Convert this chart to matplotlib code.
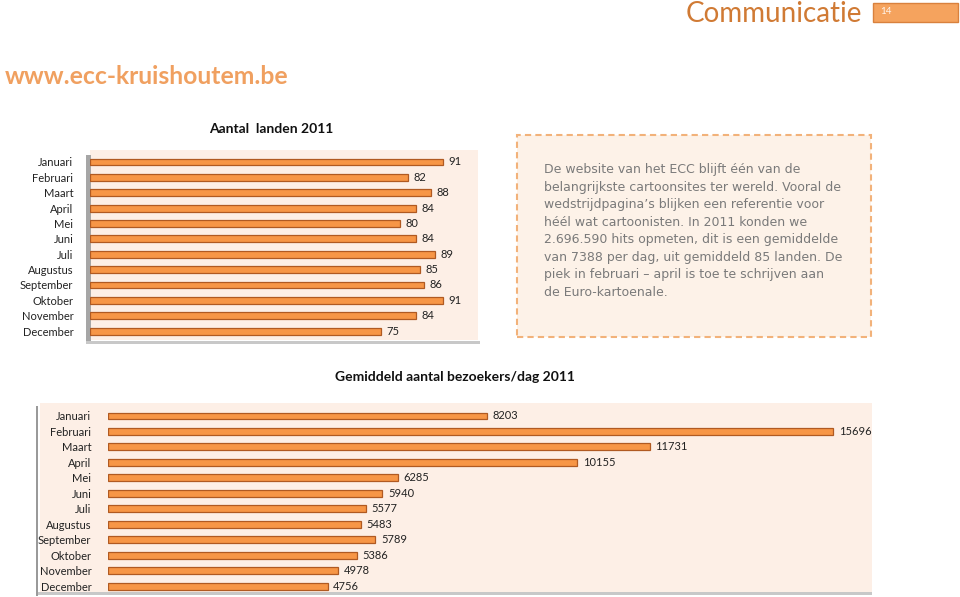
import matplotlib.pyplot as plt
from matplotlib.patches import Rectangle

# data
months = ["Januari", "Februari", "Maart", "April", "Mei", "Juni", "Juli",
          "Augustus", "September", "Oktober", "November", "December"]
landen = [91, 82, 88, 84, 80, 84, 89, 85, 86, 91, 84, 75]
bezoekers = [8203, 15696, 11731, 10155, 6285, 5940, 5577, 5483, 5789, 5386, 4978, 4756]

info_lines = [
    "De website van het ECC blijft één van de",
    "belangrijkste cartoonsites ter wereld. Vooral de",
    "wedstrijdpagina\u2019s blijken een referentie voor",
    "héél wat cartoonisten. In 2011 konden we",
    "2.696.590 hits opmeten, dit is een gemiddelde",
    "van 7388 per dag, uit gemiddeld 85 landen. De",
    "piek in februari \u2013 april is toe te schrijven aan",
    "de Euro-kartoenale.",
]

W, H = 960, 597
BAR = "#f79646"
EDGE = "#b05a22"
BG = "#fdefe6"
LABEL_FONT = ["Lato", "DejaVu Sans"]


def fx(px):
    return px / W


def fy(py):
    return 1 - py / H


def fig_rect(fig, x0, y0, x1, y1, **kw):
    # rectangle given in pixel coords (top-left origin), drawn behind the axes
    fig.patches.append(Rectangle((fx(x0), fy(y1)), fx(x1 - x0), (y1 - y0) / H,
                                 transform=fig.transFigure, zorder=-5, **kw))


def bar_chart(fig, rect, values, xmax, ylim, pad):
    ax = fig.add_axes(rect)
    ax.patch.set_alpha(0)
    y = list(range(len(values)))
    ax.barh(y, values, height=0.45, color=BAR, edgecolor=EDGE, linewidth=0.9)
    for yi, v in zip(y, values):
        ax.annotate(str(v), (v, yi), xytext=(4, 0), textcoords="offset points",
                    va="center", ha="left", fontsize=8, family=LABEL_FONT,
                    color="#222222")
    ax.set_xlim(0, xmax)
    ax.set_ylim(*ylim)
    ax.set_yticks(y)
    ax.set_yticklabels(months, fontsize=8, family=LABEL_FONT, color="#222222")
    ax.tick_params(axis="y", length=0, pad=pad)
    ax.set_xticks([])
    for s in ax.spines.values():
        s.set_visible(False)
    return ax


fig = plt.figure(figsize=(9.6, 5.97), dpi=100)

# header
fig.text(fx(862), fy(14), "Communicatie", ha="right", va="center",
         fontsize=20, family=LABEL_FONT, color="#d07a34")
fig_rect(fig, 873, 3, 958, 22, facecolor="#f5a35e", edgecolor="#d9813d",
         linewidth=1)
fig.text(fx(880), fy(12), "14", ha="left", va="center", fontsize=7,
         family=LABEL_FONT, color="#fff6ee")
fig.text(fx(5), fy(76), "www.ecc-kruishoutem.be", ha="left", va="center",
         fontsize=17.8, fontweight="bold", family=LABEL_FONT, color="#f0a060")

# top chart: aantal landen
fig.text(fx(271), fy(129), "Aantal  landen 2011", ha="center", va="center",
         fontsize=10, fontweight="bold", family=LABEL_FONT, color="#111111")
fig_rect(fig, 90, 150, 478, 340, facecolor=BG, edgecolor="none")
fig_rect(fig, 86, 155, 91, 343, facecolor="#a6a6a6", edgecolor="none")
fig_rect(fig, 86, 341, 480, 344, facecolor="#c8c8c8", edgecolor="none")
bar_chart(fig, [fx(90), fy(340), fx(388), 190 / H], landen, 100,
          (11 + 0.58, -0.78), pad=12)

# info box
fig_rect(fig, 517, 135, 871, 337, facecolor="#fdf2e8", edgecolor="#f2b27a",
         linewidth=1.5, linestyle=(0, (3, 2)))
for i, line in enumerate(info_lines):
    fig.text(fx(544), fy(170 + i * 17.45), line, ha="left", va="center",
             fontsize=9, color="#7a7a7a", family="DejaVu Sans")

# bottom chart: bezoekers per dag
fig.text(fx(455), fy(377), "Gemiddeld aantal bezoekers/dag 2011", ha="center",
         va="center", fontsize=10, fontweight="bold", family=LABEL_FONT,
         color="#111111")
fig_rect(fig, 40, 403, 872, 593, facecolor=BG, edgecolor="none")
fig_rect(fig, 36, 406, 38, 596, facecolor="#9a9a9a", edgecolor="none")
fig_rect(fig, 38, 592, 872, 595, facecolor="#c8c8c8", edgecolor="none")
bar_chart(fig, [fx(108), fy(593), fx(764), 190 / H], bezoekers, 16540,
          (11 + 0.45, -0.84), pad=12)

fig.savefig("out.png", dpi=100)
